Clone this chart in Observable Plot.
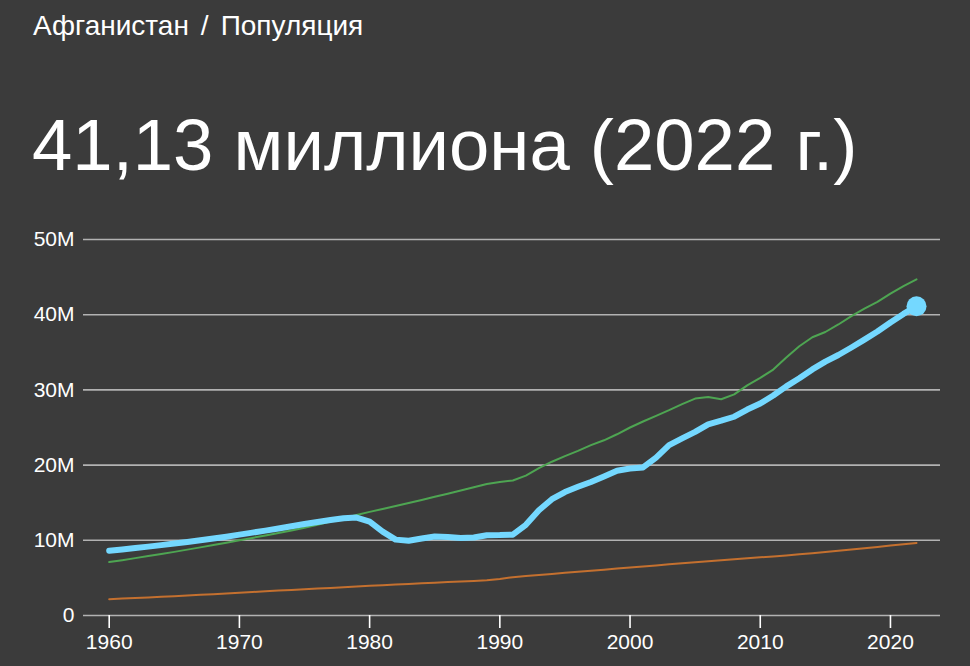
<!DOCTYPE html>
<html>
<head>
<meta charset="utf-8">
<script src="https://cdn.jsdelivr.net/npm/d3@7"></script>
<script src="https://cdn.jsdelivr.net/npm/@observablehq/plot@0.6"></script>
<style>
  html, body { margin: 0; padding: 0; background: #3b3b3b; }
  body { width: 970px; height: 666px; position: relative; overflow: hidden;
         font-family: "Liberation Sans", Arial, Helvetica, sans-serif; color: #fff; }
  #crumb { position: absolute; left: 33px; top: 12px; font-size: 28px; line-height: 28px; white-space: nowrap; }
  #crumb .sep { margin: 0 12px; }
  #headline { position: absolute; left: 32px; top: 108px; font-size: 72.5px; line-height: 73px; white-space: nowrap; }
  #chart { position: absolute; left: 0; top: 220px; }
</style>
</head>
<body>
<div id="crumb"><span>Афганистан</span><span class="sep">/</span><span>Популяция</span></div>
<div id="headline">41,13 миллиона (2022 г.)</div>
<div id="chart"></div>
<script>
// Years 1960–2022
const years = d3.range(1960, 2023);

// Afghanistan population (millions), highlighted series
const afghanistan = [
  8.62, 8.79, 8.97, 9.16, 9.36, 9.57, 9.78, 10.00, 10.24, 10.48,
  10.75, 11.02, 11.29, 11.58, 11.87, 12.16, 12.43, 12.69, 12.94, 13.03,
  12.49, 11.16, 10.09, 9.95, 10.24, 10.51, 10.45, 10.32, 10.38, 10.67,
  10.69, 10.75, 12.06, 14.00, 15.46, 16.42, 17.11, 17.76, 18.49, 19.26,
  19.54, 19.69, 21.00, 22.65, 23.55, 24.41, 25.42, 25.90, 26.43, 27.39,
  28.19, 29.25, 30.47, 31.54, 32.72, 33.75, 34.64, 35.64, 36.69, 37.77,
  38.97, 40.10, 41.13
];

// Green comparison series (millions)
const greenSeries = [
  7.10, 7.36, 7.63, 7.90, 8.18, 8.46, 8.76, 9.06, 9.37, 9.68,
  10.00, 10.32, 10.64, 10.97, 11.31, 11.68, 12.07, 12.48, 12.92, 13.36,
  13.78, 14.17, 14.55, 14.95, 15.37, 15.79, 16.20, 16.62, 17.05, 17.48,
  17.75, 17.95, 18.60, 19.60, 20.45, 21.20, 21.90, 22.65, 23.30, 24.10,
  25.00, 25.80, 26.55, 27.30, 28.10, 28.85, 29.05, 28.75, 29.40, 30.60,
  31.60, 32.70, 34.30, 35.80, 37.00, 37.70, 38.70, 39.80, 40.80, 41.70,
  42.80, 43.80, 44.70
];

// Orange comparison series (millions)
const orangeSeries = [
  2.17, 2.25, 2.33, 2.41, 2.49, 2.57, 2.66, 2.75, 2.84, 2.94,
  3.04, 3.13, 3.22, 3.31, 3.40, 3.49, 3.58, 3.67, 3.76, 3.85,
  3.94, 4.03, 4.12, 4.20, 4.28, 4.36, 4.44, 4.52, 4.60, 4.70,
  4.85, 5.10, 5.25, 5.39, 5.53, 5.67, 5.81, 5.95, 6.09, 6.24,
  6.38, 6.52, 6.66, 6.80, 6.94, 7.08, 7.21, 7.34, 7.47, 7.60,
  7.73, 7.86, 7.99, 8.13, 8.28, 8.44, 8.60, 8.77, 8.94, 9.12,
  9.30, 9.48, 9.65
];

const xTicks = [1960, 1970, 1980, 1990, 2000, 2010, 2020];
const yTicks = [0, 10e6, 20e6, 30e6, 40e6, 50e6];
const yTickLabels = ["0", "10M", "20M", "30M", "40M", "50M"];

const rows = years.map((year, i) => ({
  year,
  afg: afghanistan[i] * 1e6,
  green: greenSeries[i] * 1e6,
  orange: orangeSeries[i] * 1e6
}));
const last = rows[rows.length - 1];

const chart = Plot.plot({
  width: 970,
  height: 446,
  marginLeft: 83,
  marginRight: 30,
  marginTop: 19,
  marginBottom: 51,
  style: {
    background: "transparent",
    color: "#ffffff",
    fontFamily: "'Liberation Sans', Arial, Helvetica, sans-serif",
    fontSize: "21px",
    overflow: "visible"
  },
  x: { domain: [1960, 2022], insetLeft: 25.7, insetRight: 24, label: null },
  y: { domain: [0, 50e6], label: null },
  marks: [
    Plot.ruleY(yTicks, { stroke: "#b2b2b2", strokeWidth: 1.6 }),
    Plot.axisY({
      ticks: yTicks,
      tickSize: 0,
      tickPadding: 9,
      fontSize: 21,
      fill: "#ffffff",
      label: null,
      tickFormat: (d) => yTickLabels[yTicks.indexOf(d)]
    }),
    Plot.axisX({
      ticks: xTicks,
      tickSize: 13,
      tickPadding: 6,
      fontSize: 21,
      fill: "#ffffff",
      stroke: "#ffffff",
      strokeWidth: 1.6,
      label: null,
      tickFormat: (d) => String(d)
    }),
    Plot.lineY(rows, { x: "year", y: "orange", stroke: "#c4702f", strokeWidth: 2 }),
    Plot.lineY(rows, { x: "year", y: "green", stroke: "#4ea552", strokeWidth: 2 }),
    Plot.lineY(rows, { x: "year", y: "afg", stroke: "#74d8ff", strokeWidth: 6, strokeLinejoin: "round", strokeLinecap: "round" }),
    Plot.dot([last], { x: "year", y: "afg", r: 10, fill: "#74d8ff", stroke: "none" })
  ]
});
document.getElementById("chart").appendChild(chart);
</script>
</body>
</html>
